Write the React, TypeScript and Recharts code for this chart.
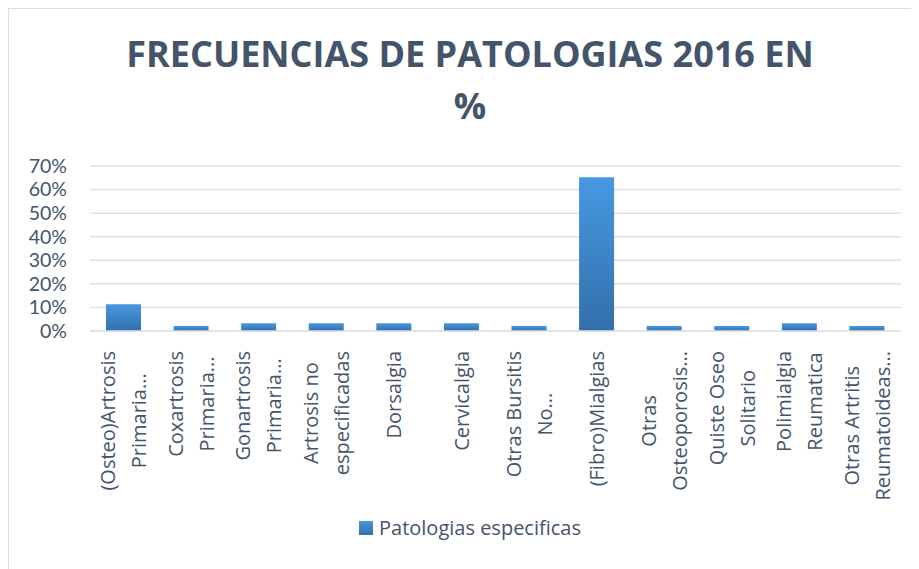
import React from "react";
import { BarChart, Bar, XAxis, YAxis, CartesianGrid } from "recharts";

// categories as they are wrapped on the axis ("\n" = line break)
const categories = [
  "(Osteo)Artrosis\nPrimaria...",
  "Coxartrosis\nPrimaria...",
  "Gonartrosis\nPrimaria...",
  "Artrosis no\nespecificadas",
  "Dorsalgia",
  "Cervicalgia",
  "Otras Bursitis\nNo...",
  "(Fibro)Mialgias",
  "Otras\nOsteoporosis...",
  "Quiste Oseo\nSolitario",
  "Polimialgia\nReumatica",
  "Otras Artritis\nReumatoideas...",
];
const values = [11.3, 2.1, 3.3, 3.3, 3.3, 3.3, 2.1, 65.2, 2.1, 2.1, 3.3, 2.1];
const yTicks = [0, 10, 20, 30, 40, 50, 60, 70];
const seriesName = "Patologias especificas";
const titleLines = ["FRECUENCIAS DE PATOLOGIAS 2016 EN", "%"];

const data = categories.map((name, i) => ({ name, value: values[i] }));

const TEXT = "#44546a";
const GRID = "#dde1e6";
const FONT = "'Open Sans', sans-serif";
const LABEL_SIZE = 20;

let ctx: CanvasRenderingContext2D | null = null;
const measure = (s: string) => {
  if (!ctx) {
    ctx = document.createElement("canvas").getContext("2d");
  }
  if (!ctx) return s.length * 10;
  ctx.font = `${LABEL_SIZE}px 'Open Sans'`;
  return ctx.measureText(s).width;
};

const CategoryTick = (props: any) => {
  const { x, y, payload } = props;
  const lines: string[] = String(payload.value).split("\n");
  const blockLen = Math.max(...lines.map(measure));
  const gap = 12;
  const lineH = 31;
  return (
    <g transform={`translate(${x},${y}) rotate(-90)`}>
      <text
        x={-(gap + blockLen / 2)}
        y={0}
        textAnchor="middle"
        fill={TEXT}
        fontSize={LABEL_SIZE}
        fontFamily={FONT}
      >
        {lines.map((l, i) => (
          <tspan
            key={i}
            x={-(gap + blockLen / 2)}
            y={(i - (lines.length - 1) / 2) * lineH + 7}
          >
            {l}
          </tspan>
        ))}
      </text>
    </g>
  );
};

export default function App() {
  return (
    <div
      style={{
        position: "relative",
        width: 910,
        height: 560,
        borderTop: "1px solid #d9dde3",
        borderLeft: "1px solid #d9dde3",
        background: "#fff",
        fontFamily: FONT,
      }}
    >
      <div
        style={{
          position: "absolute",
          left: 11,
          top: 19,
          width: 900,
          textAlign: "center",
          fontSize: 36,
          fontWeight: 700,
          lineHeight: "52px",
          color: TEXT,
        }}
      >
        {titleLines.map((t, i) => (
          <div key={i}>{t}</div>
        ))}
      </div>

      <div style={{ position: "absolute", left: 0, top: 0 }}>
        <BarChart
          width={910}
          height={560}
          data={data}
          margin={{ top: 157, right: 18, bottom: 68, left: 0 }}
          barSize={35}
        >
          <defs>
            <linearGradient id="barFill" x1="0" y1="0" x2="0" y2="1">
              <stop offset="0%" stopColor="#4699e2" />
              <stop offset="100%" stopColor="#336fab" />
            </linearGradient>
          </defs>
          <CartesianGrid vertical={false} stroke={GRID} strokeWidth={1.5} />
          <XAxis
            dataKey="name"
            interval={0}
            height={170}
            tickLine={false}
            axisLine={{ stroke: GRID, strokeWidth: 1.5 }}
            tick={<CategoryTick />}
          />
          <YAxis
            width={81}
            domain={[0, 70]}
            ticks={yTicks}
            interval={0}
            tickFormatter={(v: number) => `${v}%`}
            axisLine={false}
            tickLine={false}
            tickMargin={17}
            tick={{ fill: TEXT, fontSize: 19.5, fontFamily: "Lato, sans-serif" }}
          />
          <Bar
            dataKey="value"
            name={seriesName}
            fill="url(#barFill)"
            isAnimationActive={false}
          />
        </BarChart>
      </div>

      <div
        style={{
          position: "absolute",
          left: 350,
          top: 505,
          display: "flex",
          alignItems: "center",
          gap: 6,
          fontSize: 20,
          color: TEXT,
          whiteSpace: "nowrap",
        }}
      >
        <span
          style={{
            display: "inline-block",
            width: 14,
            height: 14,
            background: "linear-gradient(#4699e2, #336fab)",
          }}
        />
        <span>{seriesName}</span>
      </div>
    </div>
  );
}
